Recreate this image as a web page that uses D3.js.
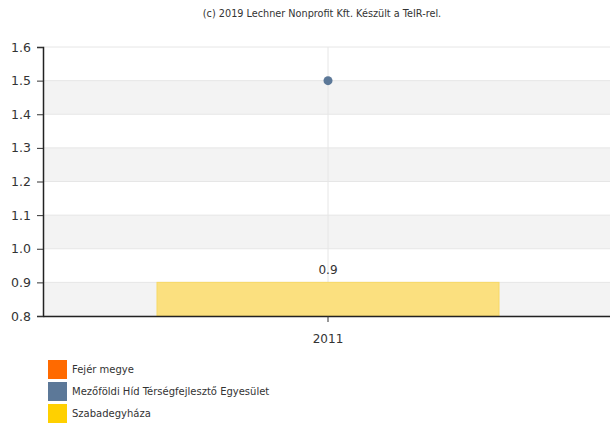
<!DOCTYPE html>
<html><head><meta charset="utf-8">
<script src="https://cdn.jsdelivr.net/npm/d3@7"></script>
<style>body{margin:0;background:#fff}svg{display:block}text{font-family:"DejaVu Sans",Verdana,sans-serif}</style>
</head><body>
<script>
const title = "(c) 2019 Lechner Nonprofit Kft. Készült a TeIR-rel.";
const categories = ["2011"];
const seriesNames = ["Fejér megye", "Mezőföldi Híd Térségfejlesztő Egyesület", "Szabadegyháza"];
const seriesColors = ["#FF6A00", "#5C7898", "#FFD000"];
const barValues = [0.9];      // Szabadegyháza
const pointValues = [1.5];    // Mezőföldi Híd Térségfejlesztő Egyesület
const yTicks = [0.8, 0.9, 1.0, 1.1, 1.2, 1.3, 1.4, 1.5, 1.6];

const W = 610, H = 425;
const m = {left: 43, right: -3, top: 47, bottom: 109};
const svg = d3.select("body").append("svg").attr("width", W).attr("height", H);
const x = d3.scaleBand().domain(categories).range([m.left, W - m.right]).paddingInner(0).paddingOuter(0);
const y = d3.scaleLinear().domain([0.8, 1.6]).range([H - m.bottom, m.top]);

svg.append("text").attr("x", 322).attr("y", 17).attr("text-anchor", "middle")
  .attr("font-size", 9.7).attr("fill", "#333").text(title);

// alternating bands
const bands = svg.append("g");
for (let i = 0; i < yTicks.length - 1; i++) {
  if (i % 2 === 0) {
    bands.append("rect").attr("x", m.left).attr("width", W - m.left)
      .attr("y", y(yTicks[i + 1])).attr("height", y(yTicks[i]) - y(yTicks[i + 1]))
      .attr("fill", "#f3f3f3");
  }
}
// grid
svg.append("g").selectAll("line").data(yTicks).join("line")
  .attr("x1", m.left).attr("x2", W).attr("y1", d => y(d)).attr("y2", d => y(d))
  .attr("stroke", "#e6e6e6").attr("stroke-width", 1);
svg.append("g").selectAll("line").data(categories).join("line")
  .attr("x1", d => x(d) + x.bandwidth() / 2).attr("x2", d => x(d) + x.bandwidth() / 2)
  .attr("y1", m.top).attr("y2", y(0.8)).attr("stroke", "#e6e6e6");

// bars
const bw = x.bandwidth() * 0.6;
svg.append("g").selectAll("rect").data(barValues).join("rect")
  .attr("x", (d, i) => x(categories[i]) + x.bandwidth() / 2 - bw / 2)
  .attr("width", bw)
  .attr("y", d => y(d)).attr("height", d => y(0.8) - y(d))
  .attr("fill", "#FBE07F").attr("stroke", "#F7D966").attr("stroke-width", 1);
svg.append("g").selectAll("text").data(barValues).join("text")
  .attr("x", (d, i) => x(categories[i]) + x.bandwidth() / 2)
  .attr("y", d => y(d) - 8).attr("text-anchor", "middle")
  .attr("font-size", 12).attr("fill", "#333").text(d => d.toFixed(1));

// points
svg.append("g").selectAll("circle").data(pointValues).join("circle")
  .attr("cx", (d, i) => x(categories[i]) + x.bandwidth() / 2)
  .attr("cy", d => y(d)).attr("r", 4.5).attr("fill", seriesColors[1]);

// axes
const yAxis = svg.append("g").attr("transform", `translate(${m.left},0)`)
  .call(d3.axisLeft(y).tickValues(yTicks).tickFormat(d3.format(".1f")).tickSize(6).tickPadding(6));
yAxis.select(".domain").attr("stroke", "#222").attr("stroke-width", 1.5);
yAxis.selectAll(".tick line").attr("stroke", "#333");
yAxis.selectAll("text").attr("font-size", 12.5).attr("fill", "#333")
  .style("font-family", '"DejaVu Sans",Verdana,sans-serif');

const xAxis = svg.append("g").attr("transform", `translate(0,${y(0.8)})`)
  .call(d3.axisBottom(x).tickSize(6).tickPadding(12).tickSizeOuter(0));
xAxis.select(".domain").attr("stroke", "#222").attr("stroke-width", 1.5);
xAxis.selectAll(".tick line").attr("stroke", "#333");
xAxis.selectAll("text").attr("font-size", 12).attr("fill", "#333")
  .style("font-family", '"DejaVu Sans",Verdana,sans-serif');

// legend
const lg = svg.append("g").attr("transform", "translate(48,360)");
seriesNames.forEach((n, i) => {
  const g = lg.append("g").attr("transform", `translate(0,${i * 22})`);
  g.append("rect").attr("width", 19).attr("height", 19).attr("fill", seriesColors[i]);
  g.append("text").attr("x", 24).attr("y", 13).attr("font-size", 10).attr("fill", "#333").text(n);
});
</script>
</body></html>
